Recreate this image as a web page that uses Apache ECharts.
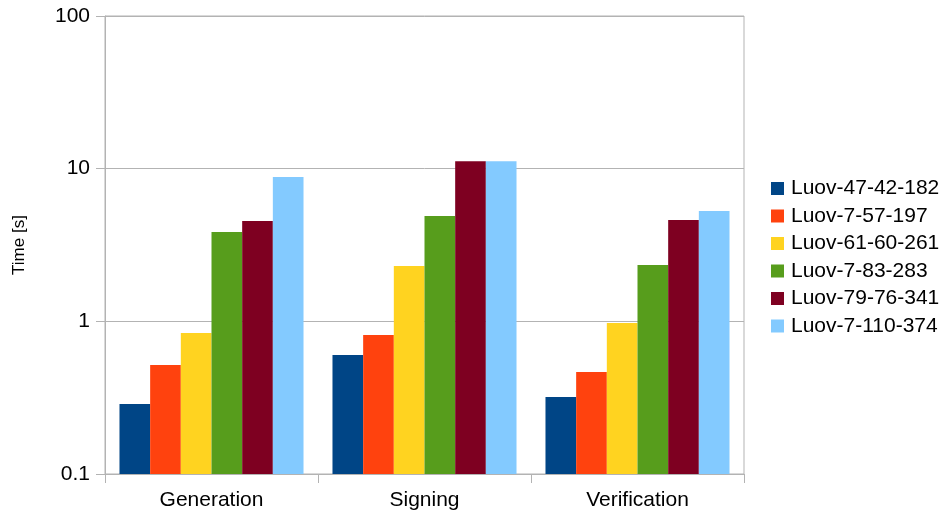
<!DOCTYPE html>
<html>
<head>
<meta charset="utf-8">
<script src="https://cdn.jsdelivr.net/npm/echarts@6/dist/echarts.min.js"></script>
<style>
  html, body { margin: 0; padding: 0; background: #fff; }
  #chart { width: 947px; height: 513px; }
</style>
</head>
<body>
<div id="chart"></div>
<script>
// Operations timed for each parameter set
const categories = ['Generation', 'Signing', 'Verification'];

// Parameter sets (one bar series each)
const seriesNames = [
  'Luov-47-42-182',
  'Luov-7-57-197',
  'Luov-61-60-261',
  'Luov-7-83-283',
  'Luov-79-76-341',
  'Luov-7-110-374'
];

// Time in seconds: [Generation, Signing, Verification]
const luov47_42_182 = [0.287, 0.602, 0.319];
const luov7_57_197 = [0.518, 0.814, 0.466];
const luov61_60_261 = [0.839, 2.30, 0.975];
const luov7_83_283 = [3.85, 4.90, 2.34];
const luov79_76_341 = [4.54, 11.2, 4.61];
const luov7_110_374 = [8.82, 11.2, 5.28];

// Y axis tick labels
const yTicks = ['0.1', '1', '10', '100'];

const seriesValues = [
  luov47_42_182, luov7_57_197, luov61_60_261,
  luov7_83_283, luov79_76_341, luov7_110_374
];
const colors = ['#004586', '#ff420e', '#ffd320', '#579d1c', '#7e0021', '#83caff'];

const FONT = '"Liberation Sans", Arial, sans-serif';
const GRID_COLOR = '#b3b3b3';

const chart = echarts.init(document.getElementById('chart'), null, { renderer: 'canvas' });

chart.setOption({
  animation: false,
  color: colors,
  textStyle: { fontFamily: FONT },
  grid: {
    left: 105, right: 203, top: 16, bottom: 39,
    show: true, borderColor: GRID_COLOR, borderWidth: 1,
    containLabel: false,
    outerBoundsMode: 'none'
  },
  legend: {
    orient: 'vertical',
    left: 766, top: 173,
    itemWidth: 13, itemHeight: 13,
    itemGap: 6.5,
    icon: 'rect',
    textStyle: { fontSize: 21, color: '#000', fontFamily: FONT, padding: [0, 0, 0, 2] },
    data: seriesNames
  },
  xAxis: {
    type: 'category',
    data: categories,
    axisLine: { lineStyle: { color: GRID_COLOR } },
    axisTick: { show: true, length: 9, lineStyle: { color: GRID_COLOR } },
    axisLabel: { color: '#000', fontSize: 21, margin: 16, fontFamily: FONT },
    splitLine: { show: false }
  },
  yAxis: {
    type: 'log',
    logBase: 10,
    min: 0.1,
    max: 100,
    startValue: 0.1,
    name: 'Time [s]',
    nameLocation: 'middle',
    nameGap: 77,
    nameRotate: 90,
    nameTextStyle: { color: '#000', fontSize: 17, fontFamily: FONT },
    axisLine: { show: true, lineStyle: { color: GRID_COLOR } },
    axisTick: { show: true, inside: false, length: 9, lineStyle: { color: GRID_COLOR } },
    axisLabel: {
      color: '#000', fontSize: 21, margin: 15, fontFamily: FONT,
      formatter: function (v) {
        const label = yTicks.find(function (t) { return Math.abs(parseFloat(t) - v) < 1e-9 * Math.max(1, v); });
        return label !== undefined ? label : '';
      }
    },
    splitLine: { show: true, lineStyle: { color: GRID_COLOR, width: 1 } }
  },
  series: seriesNames.map(function (name, i) {
    return {
      name: name,
      type: 'bar',
      data: seriesValues[i],
      barGap: '0%',
      barCategoryGap: '13.6%',
      itemStyle: { color: colors[i] }
    };
  })
});
</script>
</body>
</html>
